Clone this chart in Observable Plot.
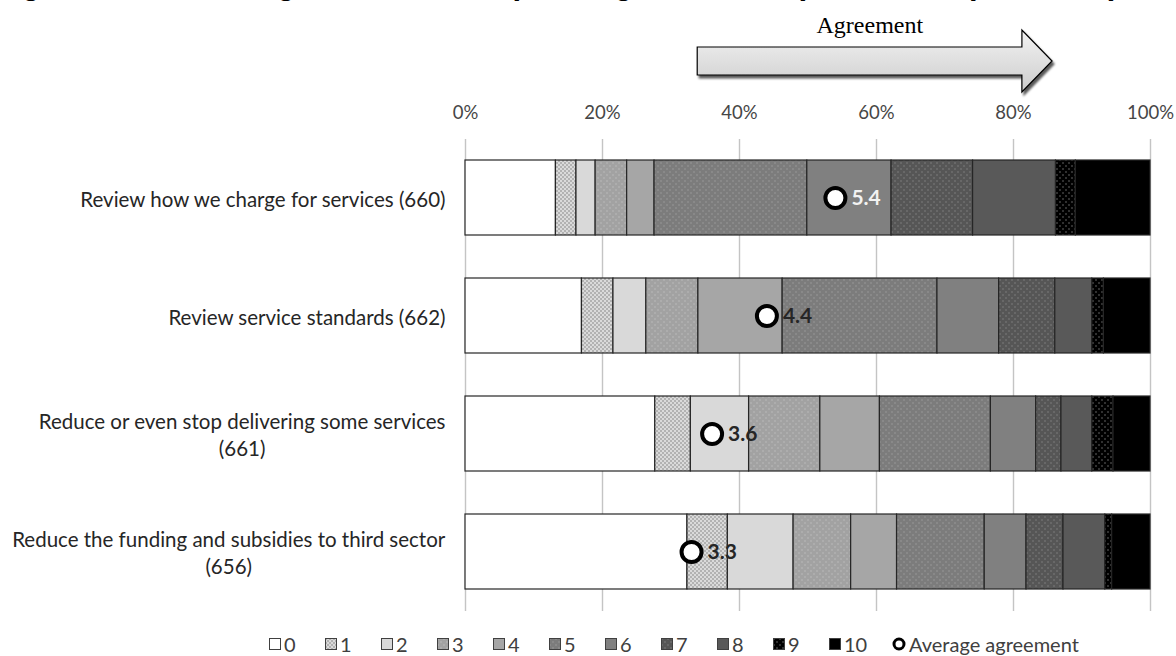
<!DOCTYPE html>
<html>
<head>
<meta charset="utf-8">
<script src="https://cdn.jsdelivr.net/npm/d3@7"></script>
<script src="https://cdn.jsdelivr.net/npm/@observablehq/plot@0.6"></script>
<style>
  html, body { margin: 0; padding: 0; background: #fff; }
  body { width: 1176px; height: 656px; overflow: hidden; font-family: Lato, "Open Sans", sans-serif; }
  #title { position: relative; height: 6px; overflow: hidden; margin: 0; }
  #title span { position: absolute; left: -6px; bottom: 4px; white-space: nowrap;
    font: bold 31px "Liberation Sans", Arial, sans-serif; color: #000; }
  #legend { display: flex; align-items: center; height: 24px; padding-left: 269px;
    font: 20px Lato, sans-serif; color: #404040; }
  #legend .item { display: flex; align-items: center; width: 56px; flex: none; }
  #legend .item.wide { width: 63px; }
  #legend .item svg { margin-right: 3px; flex: none; }
</style>
</head>
<body>
<svg width="0" height="0" style="position:absolute"><defs id="shared-defs"></defs></svg>
<div id="title"><span>Figure 7: Level of agreement with spending measures (% of all respondents)</span></div>
<div id="chart"></div>
<div id="legend"></div>
<script>
// Survey items (with respondent counts) and the 0–10 agreement scale
const questions = [
  "Review how we charge for services (660)",
  "Review service standards (662)",
  "Reduce or even stop delivering some services (661)",
  "Reduce the funding and subsidies to third sector (656)"
];
const questionLabels = [
  "Review how we charge for services (660)",
  "Review service standards (662)",
  "Reduce or even stop delivering some services\n(661)",
  "Reduce the funding and subsidies to third sector\n(656)"
];
const scores = ["0", "1", "2", "3", "4", "5", "6", "7", "8", "9", "10"];

// Share of respondents (%) giving each score, 0 to 10
const chargeShares    = [13.2, 3.0, 2.8, 4.6, 4.0, 22.3, 12.3, 11.9, 12.1, 2.9, 10.9];
const standardsShares = [17.0, 4.6, 4.8, 7.6, 12.3, 22.6, 9.0, 8.2, 5.4, 1.7, 6.8];
const stopShares      = [27.7, 5.2, 8.5, 10.4, 8.7, 16.2, 6.6, 3.7, 4.5, 3.1, 5.4];
const fundingShares   = [32.4, 5.9, 9.6, 8.4, 6.7, 12.8, 6.1, 5.4, 6.1, 1.0, 5.6];

// Average agreement on the 0–10 scale
const averages = [5.4, 4.4, 3.6, 3.3];

const xTicks = [0, 20, 40, 60, 80, 100];

// ---- fills: solid greys, dotted patterns for odd scores ----
const defs = d3.select("#shared-defs");
function dotPattern(id, base, dot, size, r) {
  const p = defs.append("pattern").attr("id", id).attr("patternUnits", "userSpaceOnUse")
    .attr("width", size).attr("height", size);
  p.append("rect").attr("width", size).attr("height", size).attr("fill", base);
  p.append("rect").attr("x", 0.5).attr("y", 0.5).attr("width", r).attr("height", r).attr("fill", dot);
  p.append("rect").attr("x", size / 2 + 0.5).attr("y", size / 2 + 0.5).attr("width", r).attr("height", r).attr("fill", dot);
}
dotPattern("dots1", "#dadada", "#3a3a3a", 4, 1);
dotPattern("dots3", "#a2a2a2", "#cfcfcf", 6, 1);
dotPattern("dots5", "#7c7c7c", "#aeaeae", 6, 1);
dotPattern("dots7", "#565656", "#9c9c9c", 6, 1);
dotPattern("dots9", "#000000", "#bdbdbd", 6, 1);

const grad = defs.append("linearGradient").attr("id", "arrowFill").attr("x1", 0).attr("y1", 0).attr("x2", 0).attr("y2", 1);
grad.append("stop").attr("offset", "0%").attr("stop-color", "#f2f2f2");
grad.append("stop").attr("offset", "100%").attr("stop-color", "#cdcdcd");
const shadow = defs.append("filter").attr("id", "arrowShadow").attr("x", "-10%").attr("y", "-20%").attr("width", "130%").attr("height", "150%");
shadow.append("feDropShadow").attr("dx", 2).attr("dy", 3).attr("stdDeviation", 1.2)
  .attr("flood-color", "#000").attr("flood-opacity", 0.65);

const scoreFills = ["#ffffff", "url(#dots1)", "#d9d9d9", "url(#dots3)", "#a6a6a6",
  "url(#dots5)", "#808080", "url(#dots7)", "#595959", "url(#dots9)", "#000000"];

// ---- tidy rows ----
const shareRows = [chargeShares, standardsShares, stopShares, fundingShares];
const segments = questions.flatMap((q, i) =>
  shareRows[i].map((v, k) => ({question: q, score: k, share: v})));
const means = questions.map((q, i) => ({question: q, mean: averages[i], row: i}));

// label colour follows the segment the value label sits on
function labelFill(d) {
  const start = d.mean * 10 + 2.3;
  let acc = 0, k = 0;
  for (; k < shareRows[d.row].length; k++) {
    acc += shareRows[d.row][k];
    if (start < acc) break;
  }
  return k >= 6 ? "#f2f2f2" : "#262626";
}

const chart = Plot.plot({
  width: 1176,
  height: 626,
  marginLeft: 465,
  marginRight: 26,
  marginTop: 133,
  marginBottom: 21,
  style: {fontFamily: "Lato, sans-serif", background: "transparent"},
  x: {domain: [0, 100], axis: null},
  y: {domain: questions, paddingInner: 0.364, paddingOuter: 0.182, axis: null},
  color: {type: "identity"},
  marks: [
    Plot.gridX(xTicks, {stroke: "#c4c4c4", strokeOpacity: 1, strokeWidth: 1.4}),
    Plot.barX(segments, Plot.stackX({
      y: "question", x: "share", z: "score",
      fill: d => scoreFills[d.score],
      stroke: "#262626", strokeWidth: 1.2
    })),
    Plot.dot(means, {x: d => d.mean * 10, y: "question", r: 10, fill: "#fff", stroke: "#000", strokeWidth: 4}),
    Plot.text(means, {
      x: d => d.mean * 10, y: "question", text: d => d.mean.toFixed(1),
      dx: 16, textAnchor: "start", fontWeight: "bold", fontSize: 21, fill: labelFill
    }),
    Plot.axisX({anchor: "top", ticks: xTicks, tickFormat: d => d + "%", tickSize: 0, tickPadding: 21,
      fontSize: 18.5, color: "#464646", label: null}),
    Plot.axisY({anchor: "left", tickSize: 0, tickPadding: 20, fontSize: 20.5, lineHeight: 1.32,
      color: "#262626", label: null, tickFormat: d => questionLabels[questions.indexOf(d)]})
  ]
});
document.getElementById("chart").appendChild(chart);

// centre the lines of wrapped question labels within their block
d3.select(chart).selectAll('[aria-label="y-axis tick label"] text').each(function() {
  const spans = this.querySelectorAll("tspan");
  if (spans.length < 2) return;
  const w = this.getBBox().width;
  this.setAttribute("text-anchor", "middle");
  spans.forEach(s => s.setAttribute("x", -w / 2));
});

// "Agreement" direction arrow above the scale
const xs = chart.scale("x");
const svg = d3.select(chart);
const bodyL = xs.apply(33.9), headB = xs.apply(81.3), tip = xs.apply(85.7);
const arrowPath = d3.path();
arrowPath.moveTo(bodyL, 41);
arrowPath.lineTo(headB, 41);
arrowPath.lineTo(headB, 24);
arrowPath.lineTo(tip, 55);
arrowPath.lineTo(headB, 86);
arrowPath.lineTo(headB, 69);
arrowPath.lineTo(bodyL, 69);
arrowPath.closePath();
svg.append("path").attr("d", arrowPath.toString())
  .attr("fill", "url(#arrowFill)").attr("stroke", "#000").attr("stroke-width", 1.2)
  .attr("filter", "url(#arrowShadow)");
svg.append("text").attr("x", xs.apply(59.1)).attr("y", 27).attr("text-anchor", "middle")
  .attr("font-family", "'Liberation Serif', 'Times New Roman', serif").attr("font-size", 24)
  .attr("fill", "#000").text("Agreement");

// legend
const legend = d3.select("#legend");
scores.forEach((s, k) => {
  const item = legend.append("div").attr("class", "item" + (s === "10" ? " wide" : ""));
  const sw = item.append("svg").attr("width", 12).attr("height", 12);
  sw.append("rect").attr("x", 0.5).attr("y", 0.5).attr("width", 11).attr("height", 11)
    .attr("fill", scoreFills[k]).attr("stroke", "#404040").attr("stroke-width", 1);
  item.append("span").text(s);
});
const avgItem = legend.append("div").attr("class", "item").style("width", "auto");
const avgSw = avgItem.append("svg").attr("width", 14).attr("height", 14);
avgSw.append("circle").attr("cx", 7).attr("cy", 7).attr("r", 5).attr("fill", "#fff")
  .attr("stroke", "#000").attr("stroke-width", 3);
avgItem.append("span").text("Average agreement");
</script>
</body>
</html>
